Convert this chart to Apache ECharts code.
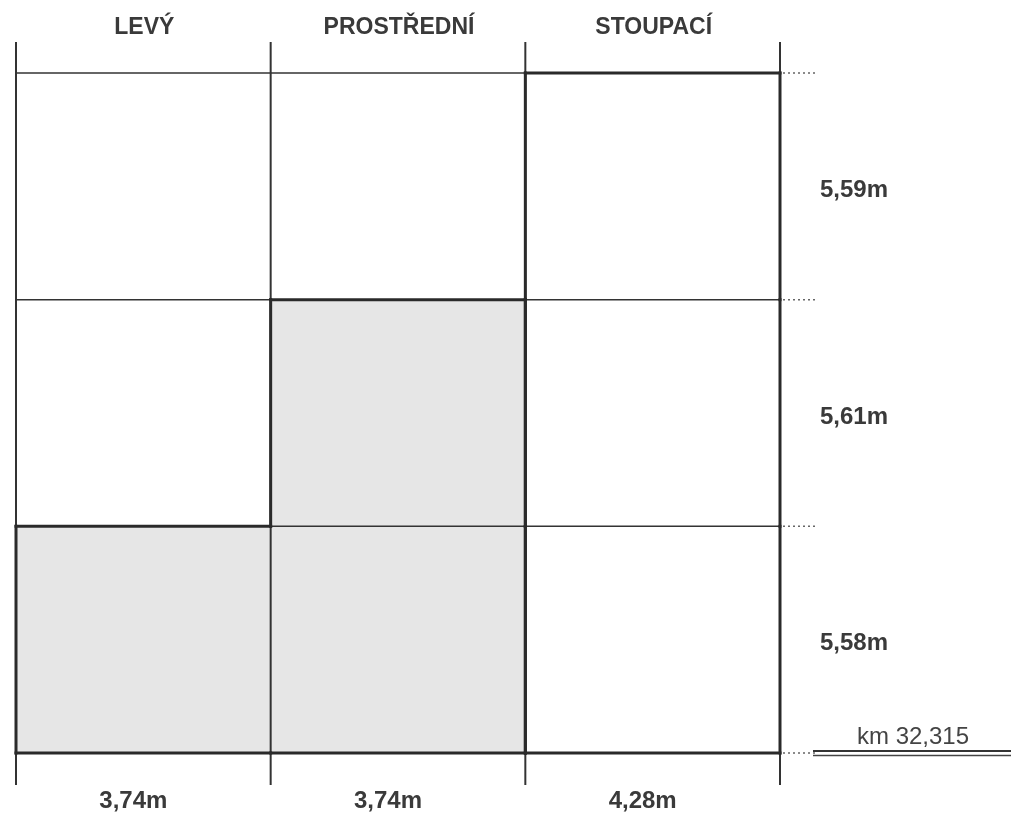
<!DOCTYPE html>
<html>
<head>
<meta charset="utf-8">
<script src="https://cdn.jsdelivr.net/npm/echarts@6/dist/echarts.min.js"></script>
<style>
html,body{margin:0;padding:0;background:#fff;}
#chart{width:1011px;height:815px;}
</style>
</head>
<body>
<div id="chart"></div>
<script>
// ---- data ----
const lanes = ['LEVÝ', 'PROSTŘEDNÍ', 'STOUPACÍ'];
const laneWidths = ['3,74m', '3,74m', '4,28m'];
const sectionLengths = ['5,58m', '5,61m', '5,59m']; // bottom to top
const shadedCells = [[0, 0], [1, 0], [1, 1]];      // [lane, section]
const outlinedLane = 2;                             // STOUPACÍ outlined
const kmLabel = 'km 32,315';

const nCols = lanes.length;
const nRows = sectionLengths.length;

// all cells
const cells = [];
for (let c = 0; c < nCols; c++) {
  for (let r = 0; r < nRows; r++) {
    const sh = shadedCells.some(s => s[0] === c && s[1] === r) ? 1 : 0;
    cells.push([c, r, sh]);
  }
}
// outline edges of a set of cells
function outlineEdges(set) {
  const has = (c, r) => set.some(s => s[0] === c && s[1] === r);
  const e = [];
  set.forEach(([c, r]) => {
    if (!has(c, r - 1)) e.push([c, r, c + 1, r]);
    if (!has(c, r + 1)) e.push([c, r + 1, c + 1, r + 1]);
    if (!has(c - 1, r)) e.push([c, r, c, r + 1]);
    if (!has(c + 1, r)) e.push([c + 1, r, c + 1, r + 1]);
  });
  return e;
}
const laneSet = [];
for (let r = 0; r < nRows; r++) laneSet.push([outlinedLane, r]);
const thickEdges = outlineEdges(shadedCells).concat(outlineEdges(laneSet));

const hLines = [];
for (let r = 0; r <= nRows; r++) hLines.push(r);
const vLines = [];
for (let c = 0; c <= nCols; c++) vLines.push(c);

const LINE = '#333';
const FONT = 'Liberation Sans, Arial, sans-serif';

const chart = echarts.init(document.getElementById('chart'));
chart.setOption({
  animation: false,
  backgroundColor: '#fff',
  grid: { left: 16, right: 231, top: 73, bottom: 62 },
  xAxis: { type: 'value', min: 0, max: nCols, show: false },
  yAxis: { type: 'value', min: 0, max: nRows, show: false },
  series: [
    {
      type: 'custom', name: 'cells', data: cells,
      renderItem: function (params, api) {
        const c = api.value(0), r = api.value(1), sh = api.value(2);
        const p0 = api.coord([c, r + 1]);
        const p1 = api.coord([c + 1, r]);
        return {
          type: 'rect',
          shape: { x: p0[0], y: p0[1], width: p1[0] - p0[0], height: p1[1] - p0[1] },
          style: { fill: sh ? '#e6e6e6' : 'rgba(0,0,0,0)' }
        };
      }
    },
    {
      type: 'custom', name: 'hlines', data: hLines,
      renderItem: function (params, api) {
        const r = api.value(0);
        const a = api.coord([0, r]), b = api.coord([nCols, r]);
        return {
          type: 'group',
          children: [
            { type: 'line', shape: { x1: a[0], y1: a[1], x2: b[0], y2: b[1] },
              style: { stroke: LINE, lineWidth: 1.5 } },
            { type: 'line', shape: { x1: b[0] + 3, y1: b[1], x2: b[0] + 36, y2: b[1] },
              style: { stroke: '#666', lineWidth: 1.5, lineDash: [2, 3] } }
          ]
        };
      }
    },
    {
      type: 'custom', name: 'vlines', data: vLines,
      renderItem: function (params, api) {
        const c = api.value(0);
        const a = api.coord([c, nRows]), b = api.coord([c, 0]);
        return { type: 'line', shape: { x1: a[0], y1: a[1] - 31, x2: b[0], y2: b[1] + 32 },
          style: { stroke: LINE, lineWidth: 2 } };
      }
    },
    {
      type: 'custom', name: 'outline', data: thickEdges,
      renderItem: function (params, api) {
        const a = api.coord([api.value(0), api.value(1)]);
        const b = api.coord([api.value(2), api.value(3)]);
        return { type: 'line', shape: { x1: a[0], y1: a[1], x2: b[0], y2: b[1] },
          style: { stroke: '#2a2a2a', lineWidth: 3, lineCap: 'square' } };
      }
    },
    {
      type: 'custom', name: 'laneLabels', data: lanes.map((l, i) => [i]),
      renderItem: function (params, api) {
        const i = api.value(0);
        const t = api.coord([i + 0.5, nRows]);
        const b = api.coord([i + 0.5, 0]);
        return {
          type: 'group',
          children: [
            { type: 'text', style: { text: lanes[i], x: t[0] + 1, y: t[1] - 45, align: 'center', verticalAlign: 'middle',
              font: 'bold 23px ' + FONT, fill: '#3a3a3a' } },
            { type: 'text', style: { text: laneWidths[i], x: b[0] - 10, y: b[1] + 48, align: 'center', verticalAlign: 'middle',
              font: 'bold 24px ' + FONT, fill: '#3a3a3a' } }
          ]
        };
      }
    },
    {
      type: 'custom', name: 'sectionLabels', data: sectionLengths.map((s, i) => [i]),
      renderItem: function (params, api) {
        const r = api.value(0);
        const p = api.coord([nCols, r + 0.5]);
        return { type: 'text', style: { text: sectionLengths[r], x: p[0] + 40, y: p[1] + 4, align: 'left', verticalAlign: 'middle',
          font: 'bold 24px ' + FONT, fill: '#3a3a3a' } };
      }
    },
    {
      type: 'custom', name: 'km', data: [[0]],
      renderItem: function (params, api) {
        const p = api.coord([nCols, 0]);
        return {
          type: 'group',
          children: [
            { type: 'line', shape: { x1: p[0] + 33, y1: p[1] - 2, x2: 1011, y2: p[1] - 2 }, style: { stroke: '#333', lineWidth: 1.8 } },
            { type: 'line', shape: { x1: p[0] + 33, y1: p[1] + 2.5, x2: 1011, y2: p[1] + 2.5 }, style: { stroke: '#444', lineWidth: 1.5 } },
            { type: 'text', style: { text: kmLabel, x: p[0] + 77, y: p[1] - 16, align: 'left', verticalAlign: 'middle',
              font: '24px ' + FONT, fill: '#444' } }
          ]
        };
      }
    }
  ]
});
</script>
</body>
</html>
